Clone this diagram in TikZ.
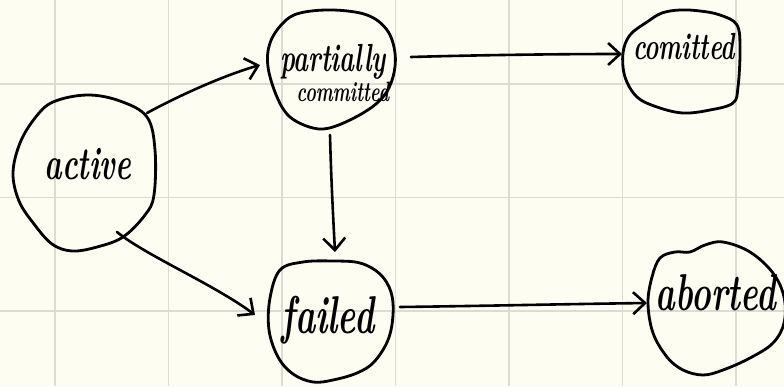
\documentclass[tikz,border=0pt]{standalone}
\usetikzlibrary{arrows.meta,calc}
\definecolor{paper}{HTML}{FEFDF2}
\definecolor{rule}{HTML}{DDDBD2}
\begin{document}
\begin{tikzpicture}[x=1pt,y=-1pt,
  ink/.style={line width=2.8pt, line cap=round, line join=round},
  blob/.style={ink, draw=black},
  word/.style={font=\bfseries\itshape\fontsize{#1}{#1}\selectfont, inner sep=0pt,
    xscale=0.9, yscale=1.4, transform shape},
  flow/.style={ink, line width=2.6pt, -{Straight Barb[length=12pt,width=22pt]}},
]
% paper and squared ruling
\fill[paper] (0,0) rectangle (784,386);
\useasboundingbox (0,0) rectangle (784,386);
\foreach \x in {55,168.5,282,395.5,509,622.5,736}
  \draw[rule, line width=1.2pt] (\x,0) -- (\x,386);
\foreach \y in {84,197.5,311}
  \draw[rule, line width=1.2pt] (0,\y) -- (784,\y);

% state labels
\node[word=33] (active)    at (88,164)  {active};
\node[word=28] (partial)   at (333,62)  {partially};
\node[word=20] (partialb)  at (343,92)  {committed};
\node[word=27] (committed) at (684,47)  {comitted};
\node[word=38] (failed)    at (328,320) {failed};
\node[word=37] (aborted)   at (716,293) {aborted};

% hand-drawn outlines round the states
\draw[blob] plot[smooth cycle, tension=0.6] coordinates {
  (53,102) (87,95) (120,101) (147,117) (155,150) (154,195) (145,215)
  (123,237) (97,247) (72,251) (52,244) (34,224) (19,201) (13,173)
  (20,143) (35,118)};
\draw[blob] plot[smooth cycle, tension=0.6] coordinates {
  (300,13) (333,10) (367,15) (387,30) (395,53) (393,77) (383,97)
  (363,113) (333,127) (313,128) (290,117) (277,97) (268,67) (270,43)
  (283,23)};
\draw[blob] plot[smooth cycle, tension=0.6] coordinates {
  (647,22) (662,13) (680,10) (700,11) (720,15) (737,25) (740,50)
  (738,87) (733,103) (710,110) (683,113) (657,107) (637,97) (625,77)
  (623,53) (630,35)};
\draw[blob] plot[smooth cycle, tension=0.6] coordinates {
  (280,270) (303,262) (333,261) (360,263) (380,274) (391,292) (393,315)
  (388,340) (374,362) (357,373) (333,380) (313,382) (293,374) (278,357)
  (269,330) (270,298)};
\draw[blob] plot[smooth cycle, tension=0.6] coordinates {
  (660,258) (675,252) (690,252) (705,245) (723,242) (750,252) (773,273)
  (784,297) (784,323) (773,343) (750,358) (723,370) (703,375) (683,370)
  (667,357) (653,333) (648,303) (652,277)};

% transitions
\draw[flow] ($(active)+(59,-51)$) .. controls (180,95) and (225,75) .. ($(partial)+(-73,3)$);
\draw[flow] ($(partial)+(78,-5)$) .. controls (480,55) and (560,54) .. ($(committed)+(-62,7)$);
\draw[flow] ($(partial)+(-3,73)$) .. controls (331,175) and (333,215) .. ($(failed)+(7,-68)$);
\draw[flow] ($(active)+(29,68)$) .. controls (145,255) and (215,285) .. ($(failed)+(-73,-5)$);
\draw[flow] ($(failed)+(72,-13)$) .. controls (480,306) and (570,304) .. ($(aborted)+(-69,10)$);
\end{tikzpicture}
\end{document}
